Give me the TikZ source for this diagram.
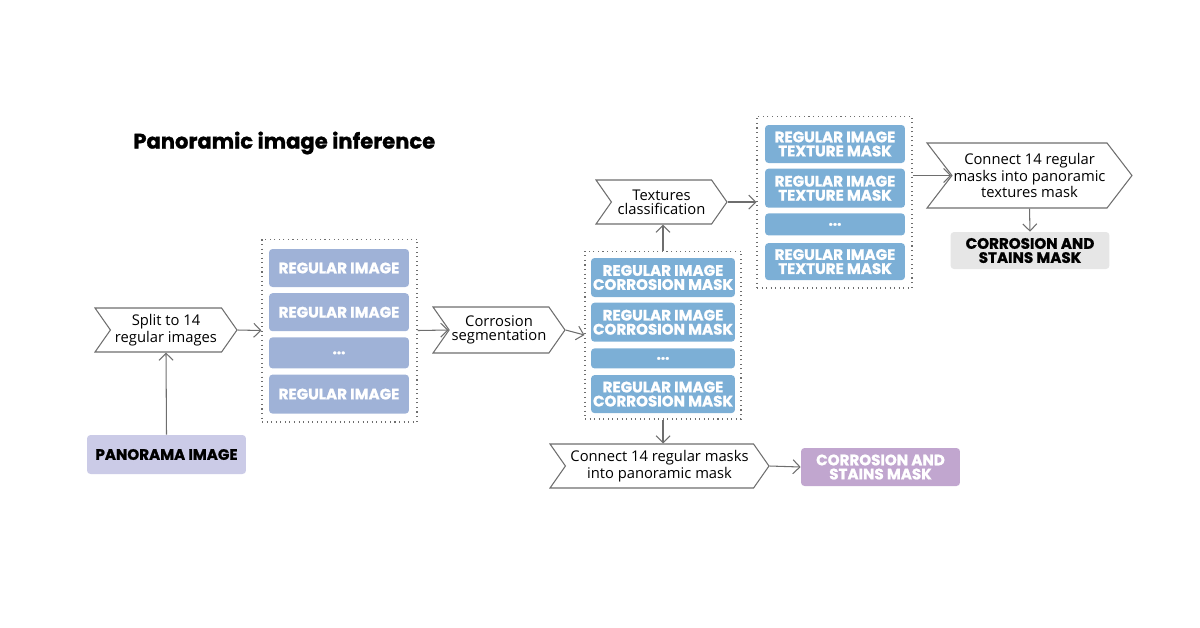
\documentclass[tikz,border=0pt]{standalone}
\usepackage{fontspec}
\usepackage{xcolor}
\setmainfont{Open Sans}
\newfontfamily\popfont{Poppins}[BoldFeatures={FakeBold=1.2}]
\usetikzlibrary{arrows.meta, positioning, shapes.symbols}

\definecolor{tileA}{HTML}{9FB2D7}
\definecolor{tileB}{HTML}{7CAFD6}
\definecolor{panoC}{HTML}{CBCBE7}
\definecolor{maskP}{HTML}{C1A6CF}
\definecolor{maskG}{HTML}{E6E6E6}
\definecolor{lineC}{HTML}{6E6E6E}

\begin{document}
\begin{tikzpicture}[x=0.02cm, y=-0.02cm,
    chev/.style={signal, signal from=west, signal to=east, draw=lineC, line width=0.6pt,
        fill=white, align=center, inner sep=0pt, signal pointer angle=110,
        font=\fontsize{8.4}{7.9}\selectfont},
    tile/.style={rounded corners=2pt, fill=#1, text=white, inner sep=0pt, align=center,
        minimum width=2.8cm, font=\popfont\bfseries\fontsize{8.6}{8}\selectfont},
    grp/.style={draw=lineC, dotted, line width=0.6pt, inner sep=0pt},
    arr/.style={draw=lineC, line width=0.6pt, -{Straight Barb[length=1.4mm,width=2.8mm]}},
    mask/.style={rounded corners=2pt, fill=#1, inner sep=0pt, align=center,
        minimum width=3.18cm, font=\popfont\bfseries\fontsize{8.6}{8}\selectfont}]
    \useasboundingbox (0,0) rectangle (1200,627);

    % title
    \node[anchor=west, inner sep=0pt, font=\popfont\bfseries\fontsize{12}{12}\selectfont] (title) at (133,143) {Panoramic image inference};

    % input and splitting
    \node[chev, minimum width=2.84cm, minimum height=0.88cm] (split) at (166,330) {Split to 14\\regular images};
    \node[mask=panoC, minimum height=0.78cm] (pano) at (166.5,454.5) {PANORAMA IMAGE};
    \draw[arr] (pano.north) -- (split.south);

    % regular images
    \node[grp, minimum width=3.1cm, minimum height=3.66cm] (g1) at (339.5,330.5) {};
    \node[tile=tileA, minimum height=0.76cm] (r1) at (339,268) {REGULAR IMAGE};
    \node[tile=tileA, minimum height=0.76cm, below=0.11cm of r1] (r2) {REGULAR IMAGE};
    \node[tile=tileA, minimum height=0.62cm, below=0.11cm of r2] (r3) {...};
    \node[tile=tileA, minimum height=0.78cm, below=0.11cm of r3] (r4) {REGULAR IMAGE};
    \draw[arr] (split.east) -- (g1.west);

    % corrosion segmentation
    \node[chev, minimum width=2.64cm, minimum height=0.92cm] (seg) at (499,330) {Corrosion\\segmentation};
    \draw[arr] (g1.east) -- (seg.west);

    \node[grp, minimum width=3.12cm, minimum height=3.36cm] (g2) at (663,335) {};
    \node[tile=tileB, minimum width=2.88cm, minimum height=0.78cm] (c1) at (663,277.5) {REGULAR IMAGE\\CORROSION MASK};
    \node[tile=tileB, minimum width=2.88cm, minimum height=0.78cm, below=0.1cm of c1] (c2) {REGULAR IMAGE\\CORROSION MASK};
    \node[tile=tileB, minimum width=2.88cm, minimum height=0.4cm, below=0.12cm of c2] (c3) {...};
    \node[tile=tileB, minimum width=2.88cm, minimum height=0.76cm, below=0.12cm of c3] (c4) {REGULAR IMAGE\\CORROSION MASK};
    \draw[arr] (seg.east) -- (g2.west);

    % textures classification
    \node[chev, minimum width=2.62cm, minimum height=0.88cm] (tex) at (661.5,202) {Textures\\classification};
    \draw[arr] (g2.north) -- (g2.north |- tex.south);

    \node[grp, minimum width=3.1cm, minimum height=3.44cm] (g3) at (834.5,202) {};
    \node[tile=tileB, minimum height=0.76cm] (t1) at (835,144) {REGULAR IMAGE\\TEXTURE MASK};
    \node[tile=tileB, minimum height=0.78cm, below=0.1cm of t1] (t2) {REGULAR IMAGE\\TEXTURE MASK};
    \node[tile=tileB, minimum height=0.44cm, below=0.1cm of t2] (t3) {...};
    \node[tile=tileB, minimum height=0.74cm, below=0.14cm of t3] (t4) {REGULAR IMAGE\\TEXTURE MASK};
    \draw[arr] (tex.east) -- (g3.west);

    % panoramic textures mask
    \node[chev, signal pointer angle=105, minimum width=4.1cm, minimum height=1.3cm] (joinT) at (1029.5,175.5) {Connect 14 regular\\masks into panoramic\\textures mask};
    \draw[arr] (g3.east |- joinT.west) -- (joinT.west);
    \node[mask=maskG, minimum height=0.74cm] (maskT) at (1030,250.5) {CORROSION AND\\STAINS MASK};
    \draw[arr] (joinT.south) -- (maskT.north);

    % panoramic corrosion mask
    \node[chev, minimum width=4.38cm, minimum height=0.88cm] (joinC) at (659.5,466) {Connect 14 regular masks\\into panoramic mask};
    \draw[arr] (g2.south) -- (g2.south |- joinC.north);
    \node[mask=maskP, text=white, minimum height=0.76cm] (maskC) at (880.5,467) {CORROSION AND\\STAINS MASK};
    \draw[arr] (joinC.east) -- (maskC.west);
\end{tikzpicture}
\end{document}
